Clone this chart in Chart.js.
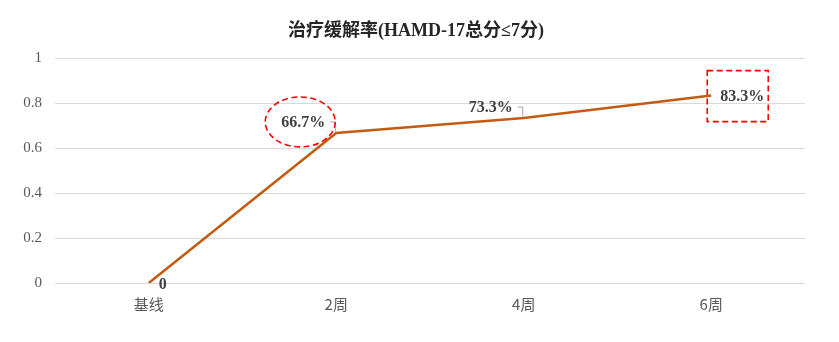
<!DOCTYPE html>
<html>
<head>
<meta charset="utf-8">
<script src="https://cdn.jsdelivr.net/npm/chart.js"></script>
<style>
  html, body { margin: 0; padding: 0; background: #fff; }
  #wrap { width: 839px; height: 342px; position: relative; }
</style>
</head>
<body>
<div id="wrap"><canvas id="chart"></canvas></div>
<script>
// 数据
const categories = ['基线', '2周', '4周', '6周'];
const remission = [0, 0.667, 0.733, 0.833];
const valueLabels = ['0', '66.7%', '73.3%', '83.3%'];
const yTicks = [0, 0.2, 0.4, 0.6, 0.8, 1];

const titleText = '治疗缓解率(HAMD-17总分≤7分)';
const lineColor = '#C55A11';

// 标题、数据标签、引导线和红色虚线标注
const annotations = {
  id: 'annotations',
  afterDatasetsDraw(chart) {
    const ctx = chart.ctx;
    const pts = chart.getDatasetMeta(0).data;

    ctx.save();
    ctx.fillStyle = '#262626';
    ctx.font = "bold 18px 'Liberation Serif', 'Noto Sans CJK SC'";
    ctx.textAlign = 'center';
    ctx.textBaseline = 'middle';
    ctx.fillText(titleText, 416, 31);

    // 标签相对数据点的偏移
    const offs = [[14, 2], [-33, -10], [-33, -10], [31, 1]];
    ctx.font = "bold 16px 'Liberation Serif'";
    ctx.fillStyle = '#404040';
    pts.forEach((p, i) => {
      ctx.fillText(valueLabels[i], p.x + offs[i][0], p.y + offs[i][1]);
    });

    // 引导线
    ctx.strokeStyle = '#a6a6a6';
    ctx.lineWidth = 1;
    [1, 2].forEach(i => {
      const p = pts[i];
      ctx.beginPath();
      ctx.moveTo(p.x - 6, p.y - 11);
      ctx.lineTo(p.x - 1, p.y - 11);
      ctx.lineTo(p.x - 1, p.y - 1);
      ctx.stroke();
    });

    // 红色虚线圈
    ctx.strokeStyle = '#FF0000';
    ctx.lineWidth = 1.6;
    ctx.setLineDash([6, 3.5]);
    const p1 = pts[1];
    ctx.beginPath();
    ctx.ellipse(p1.x - 36, p1.y - 11, 35, 25, 0, 0, Math.PI * 2);
    ctx.stroke();

    const p3 = pts[3];
    ctx.strokeRect(p3.x - 4, p3.y - 25, 61, 51);
    ctx.restore();
  }
};

new Chart(document.getElementById('chart'), {
  type: 'line',
  data: {
    labels: categories,
    datasets: [{
      data: remission,
      borderColor: lineColor,
      borderWidth: 2.5,
      pointRadius: 0,
      tension: 0,
      fill: false
    }]
  },
  options: {
    responsive: true,
    maintainAspectRatio: false,
    animation: false,
    layout: { padding: { top: 58, right: 34, left: 0, bottom: 0 } },
    plugins: {
      legend: { display: false },
      title: { display: false },
      tooltip: { enabled: false }
    },
    scales: {
      x: {
        offset: true,
        grid: { display: false, drawTicks: false },
        border: { display: false },
        ticks: {
          color: '#595959',
          padding: 12,
          font: { family: "'Noto Sans CJK SC'", size: 15 }
        },
        afterFit(scale) { scale.height = 59; }
      },
      y: {
        min: 0,
        max: 1,
        afterBuildTicks(scale) { scale.ticks = yTicks.map(v => ({ value: v })); },
        grid: { color: '#d9d9d9', drawTicks: false, lineWidth: 1 },
        border: { display: false },
        ticks: {
          color: '#595959',
          padding: 13,
          font: { family: "'Liberation Serif'", size: 15 },
          callback: v => String(v)
        },
        afterFit(scale) { scale.width = 55; }
      }
    }
  },
  plugins: [annotations]
});
</script>
</body>
</html>
